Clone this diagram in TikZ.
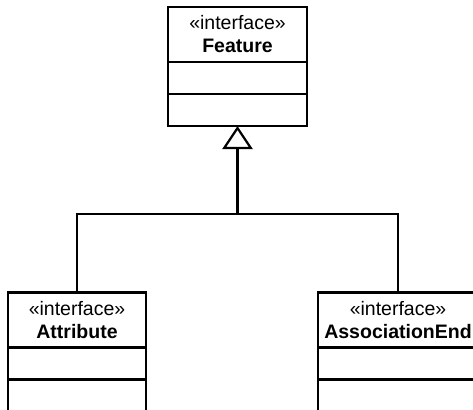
\documentclass[tikz,border=0pt]{standalone}
\usepackage{fontspec}
\setmainfont{Liberation Sans}
\usetikzlibrary{arrows.meta, positioning}

\begin{document}
\begin{tikzpicture}[x=1pt, y=-1pt,
  classhead/.style={draw, line width=2.2pt, outer sep=0pt, inner sep=0pt,
    minimum height=55pt, align=center, font=\fontsize{19.5}{23}\selectfont},
  compart/.style={draw, line width=2.2pt, outer sep=0pt, minimum height=32pt},
  inherit/.style={line width=2.2pt, -{Triangle[open, length=23pt, width=30pt]}}]
  \useasboundingbox (0,0) rectangle (473,409);
  % parent interface
  \node[classhead, minimum width=139pt] (feature) at (237.5,34.5) {«interface»\\\textbf{Feature}};
  \node[compart, minimum width=139pt, below=0pt of feature] (featattr) {};
  \node[compart, minimum width=139pt, below=0pt of featattr] (featops) {};
  % sub interfaces
  \node[classhead, minimum width=138pt] (attribute) at (77,320) {«interface»\\\textbf{Attribute}};
  \node[compart, minimum width=138pt, below=0pt of attribute] (attrattr) {};
  \node[compart, minimum width=138pt, below=0pt of attrattr] (attrops) {};
  \node[classhead, minimum width=160pt] (assocend) at (398,320) {«interface»\\\textbf{AssociationEnd}};
  \node[compart, minimum width=160pt, below=0pt of assocend] (assocattr) {};
  \node[compart, minimum width=160pt, below=0pt of assocattr] (assocops) {};
  % generalization
  \coordinate (bus) at (237.5,214);
  \draw[inherit] (attribute.north) |- (bus) -- (featops.south);
  \draw[line width=2.2pt] (assocend.north) |- (bus);
\end{tikzpicture}
\end{document}
